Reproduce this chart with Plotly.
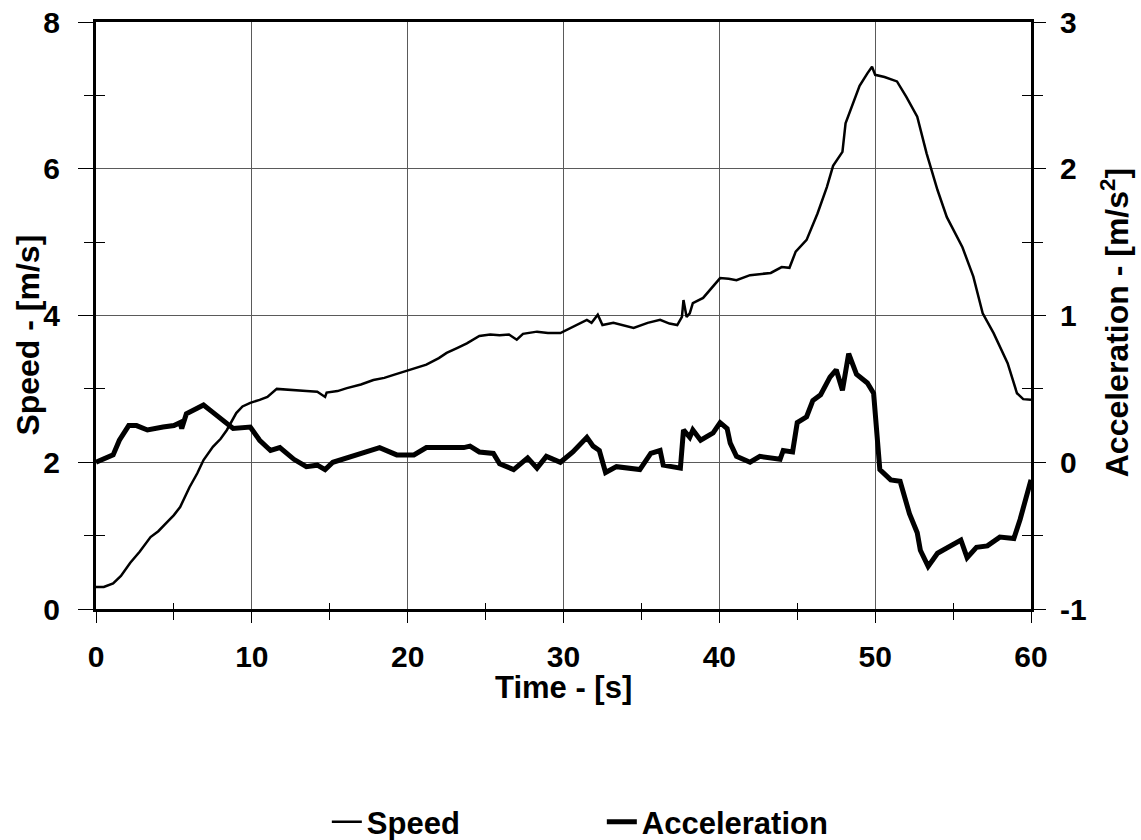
import plotly.graph_objects as go

# ---- data ----
speed_t = [0.0, 0.5, 1.1, 1.6, 2.2, 2.8, 3.5, 4.0, 4.5, 5.0, 5.4, 6.0, 6.5, 6.9, 7.5, 8.0, 8.4, 9.0, 9.4, 9.9,
           10.5, 11.0, 11.6, 12.5, 13.5, 14.2, 14.7, 14.8, 15.5, 16.1, 17.0, 17.8, 18.5, 19.1, 20.2, 21.2, 22.0,
           22.5, 23.2, 23.8, 24.6, 25.3, 25.9, 26.5, 27.0, 27.4, 28.3, 29.0, 29.8, 30.6, 31.5, 31.8, 32.2, 32.5,
           33.2, 34.5, 35.4, 36.2, 36.8, 37.3, 37.6, 37.7, 37.9, 38.1, 38.3, 38.96, 39.6, 40.05, 40.6, 41.1,
           41.97, 42.6, 43.3, 44.0, 44.5, 44.9, 45.6, 46.3, 46.9, 47.3, 47.9, 48.1, 48.6, 49.0, 49.5, 49.8,
           50.0, 50.6, 51.4, 52.0, 52.7, 53.3, 54.0, 54.6, 55.6, 56.3, 56.9, 57.6, 58.5, 59.1, 59.5, 60.0]
speed_v = [0.30, 0.30, 0.35, 0.45, 0.63, 0.78, 0.98, 1.06, 1.17, 1.28, 1.39, 1.66, 1.85, 2.03, 2.21, 2.32, 2.44,
           2.67, 2.76, 2.81, 2.85, 2.89, 3.00, 2.99, 2.97, 2.96, 2.89, 2.95, 2.97, 3.01, 3.06, 3.12, 3.15, 3.19,
           3.26, 3.33, 3.42, 3.49, 3.56, 3.62, 3.72, 3.74, 3.73, 3.74, 3.67, 3.75, 3.78, 3.76, 3.76, 3.85, 3.94,
           3.90, 4.01, 3.87, 3.90, 3.83, 3.90, 3.94, 3.89, 3.87, 3.98, 4.21, 3.98, 4.03, 4.17, 4.24, 4.39, 4.51,
           4.50, 4.48, 4.55, 4.56, 4.58, 4.66, 4.65, 4.87, 5.03, 5.39, 5.75, 6.04, 6.23, 6.62, 6.90, 7.13, 7.30,
           7.39, 7.28, 7.25, 7.19, 6.98, 6.71, 6.21, 5.71, 5.34, 4.93, 4.53, 4.03, 3.76, 3.35, 2.94, 2.86, 2.85]

acc_t = [0.0, 0.5, 1.1, 1.5, 2.1, 2.6, 3.3, 4.3, 5.0, 5.4, 5.5, 5.8, 6.2, 6.9, 7.5, 8.4, 8.8, 9.9, 10.5, 11.2,
         11.8, 12.7, 13.5, 14.2, 14.7, 15.2, 16.1, 17.1, 18.2, 19.3, 20.4, 21.2, 22.5, 23.6, 24.0, 24.6, 25.5,
         25.9, 26.8, 27.7, 28.3, 28.9, 29.8, 30.6, 31.5, 31.9, 32.3, 32.7, 33.4, 34.9, 35.6, 36.2, 36.4, 37.5,
         37.7, 38.1, 38.3, 38.8, 39.6, 40.05, 40.5, 40.7, 41.1, 41.97, 42.6, 43.9, 44.1, 44.7, 45.0, 45.6, 46.0,
         46.5, 47.1, 47.5, 47.9, 48.3, 48.8, 49.5, 49.9, 50.2, 50.3, 51.0, 51.6, 52.2, 52.7, 52.9, 53.4, 54.0,
         54.6, 55.5, 55.9, 56.5, 57.2, 58.0, 58.9, 59.3, 60.0]
acc_v = [0.00, 0.02, 0.05, 0.15, 0.25, 0.25, 0.22, 0.24, 0.25, 0.27, 0.23, 0.33, 0.35, 0.39, 0.34, 0.27, 0.23,
         0.24, 0.15, 0.08, 0.10, 0.02, -0.03, -0.02, -0.05, 0.00, 0.03, 0.06, 0.10, 0.05, 0.05, 0.10, 0.10, 0.10,
         0.11, 0.07, 0.06, -0.01, -0.05, 0.03, -0.04, 0.04, 0.00, 0.07, 0.17, 0.11, 0.08, -0.07, -0.03, -0.05,
         0.06, 0.08, -0.02, -0.04, 0.22, 0.17, 0.22, 0.15, 0.20, 0.27, 0.23, 0.13, 0.04, 0.00, 0.04, 0.02, 0.08,
         0.07, 0.27, 0.31, 0.42, 0.46, 0.58, 0.63, 0.49, 0.74, 0.60, 0.54, 0.47, 0.06, -0.05, -0.12, -0.13,
         -0.35, -0.48, -0.60, -0.71, -0.62, -0.58, -0.53, -0.65, -0.58, -0.57, -0.51, -0.52, -0.39, -0.12]

x_ticks = [0, 10, 20, 30, 40, 50, 60]
x_minor = [5, 15, 25, 35, 45, 55]
speed_ticks = [0, 2, 4, 6, 8]
speed_minor = [1, 3, 5, 7]
acc_ticks = [-1, 0, 1, 2, 3]
acc_tick_text = ["-1", "0", "1", "2", "3"]
acc_minor = [-0.5, 0.5, 1.5, 2.5]

FONT = "Liberation Sans, Arial, sans-serif"
TICKF = dict(family=FONT, size=30, color="black", weight="bold")
LABF = dict(family=FONT, size=31, color="black", weight="bold")
TITF = dict(family=FONT, size=32, color="black", weight="bold")
GRID = "#5a5a5a"

fig = go.Figure()
fig.add_trace(go.Scatter(x=speed_t, y=speed_v, name="Speed", mode="lines",
                         line=dict(color="black", width=2.5), xaxis="x", yaxis="y"))
fig.add_trace(go.Scatter(x=acc_t, y=acc_v, name="Acceleration", mode="lines",
                         line=dict(color="black", width=5), xaxis="x", yaxis="y2"))
# helper traces for the inner halves of the crossing minor ticks
fig.add_trace(go.Scatter(x=[None], y=[None], xaxis="x2", yaxis="y3", showlegend=False, hoverinfo="skip"))
fig.add_trace(go.Scatter(x=[None], y=[None], xaxis="x2", yaxis="y4", showlegend=False, hoverinfo="skip"))

fig.update_layout(
    width=1141, height=840,
    margin=dict(l=96, r=110, t=22, b=231, autoexpand=False),
    paper_bgcolor="white", plot_bgcolor="white",
    font=dict(family=FONT, color="black", weight="bold"),
    xaxis=dict(range=[0, 60], tickvals=x_ticks, ticks="outside", ticklen=11, tickwidth=1, tickcolor="black",
               showline=True, linewidth=3, linecolor="black", mirror=True, automargin=False,
               showgrid=True, gridcolor=GRID, gridwidth=1, zeroline=False,
               tickfont=TICKF, ticklabelstandoff=8,
               minor=dict(tickvals=x_minor, ticks="outside", ticklen=8, tickcolor="black", showgrid=False)),
    yaxis=dict(range=[0, 8], tickvals=speed_ticks, ticks="outside", ticklen=15, tickwidth=1, tickcolor="black",
               showline=True, linewidth=3, linecolor="black", automargin=False,
               showgrid=True, gridcolor=GRID, gridwidth=1, zeroline=False,
               tickfont=TICKF, ticklabelstandoff=12,
               minor=dict(tickvals=speed_minor, ticks="outside", ticklen=9, tickcolor="black", showgrid=False)),
    yaxis2=dict(range=[-1, 3], overlaying="y", side="right", anchor="x", tickvals=acc_ticks,
                ticktext=acc_tick_text, automargin=False,
                ticks="outside", ticklen=12, tickwidth=1, tickcolor="black",
                showline=True, linewidth=3, linecolor="black",
                showgrid=False, zeroline=False, tickfont=TICKF, ticklabelstandoff=8,
                minor=dict(tickvals=acc_minor, ticks="outside", ticklen=9, tickcolor="black", showgrid=False)),
    xaxis2=dict(range=[0, 60], overlaying="x", anchor="y", side="bottom", tickvals=x_minor, automargin=False,
                ticks="inside", ticklen=6, tickcolor="black", showticklabels=False,
                showgrid=False, zeroline=False, showline=False),
    yaxis3=dict(range=[0, 8], overlaying="y", anchor="x", side="left", tickvals=speed_minor, automargin=False,
                ticks="inside", ticklen=9, tickcolor="black", showticklabels=False,
                showgrid=False, zeroline=False, showline=False),
    yaxis4=dict(range=[-1, 3], overlaying="y", anchor="x", side="right", tickvals=acc_minor, automargin=False,
                ticks="inside", ticklen=9, tickcolor="black", showticklabels=False,
                showgrid=False, zeroline=False, showline=False),
    legend=dict(orientation="h", x=0.541, xanchor="center", y=-0.363, yanchor="middle",
                font=LABF, entrywidth=230, entrywidthmode="pixels", bgcolor="rgba(0,0,0,0)"),
    showlegend=True,
)

fig.add_annotation(text="Time - [s]", xref="paper", yref="paper", x=0.5, y=-0.133,
                   xanchor="center", yanchor="middle", showarrow=False, font=LABF)
fig.add_annotation(text="Speed - [m/s]", xref="paper", yref="paper", x=-0.073, y=0.467,
                   xanchor="center", yanchor="middle", textangle=-90, showarrow=False, font=TITF)
fig.add_annotation(text="Acceleration - [m/s<sup>2</sup>]", xref="paper", yref="paper", x=1.09, y=0.487,
                   xanchor="center", yanchor="middle", textangle=-90, showarrow=False, font=TITF)

fig.write_html("out.html")
